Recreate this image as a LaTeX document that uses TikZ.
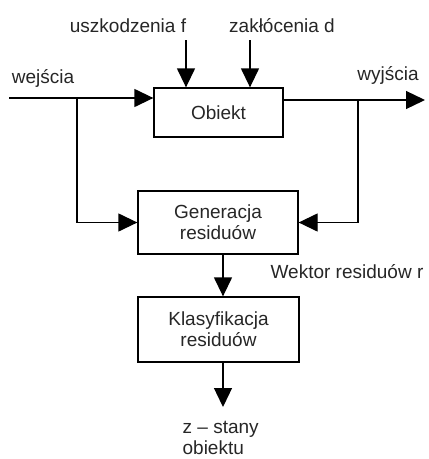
\documentclass[tikz,border=0pt]{standalone}
\usepackage{fontspec}
\setmainfont{Liberation Sans}
\usetikzlibrary{arrows.meta}
\begin{document}
\begin{tikzpicture}[x=1pt,y=-1pt,
  >={Triangle[length=19pt,width=18pt]},
  line width=1.3pt,
  txt/.style={font=\fontsize{19}{22}\selectfont, text=black!85},
  box/.style={draw, rectangle, inner sep=0pt, align=center, txt},
  lbl/.style={inner sep=0pt, txt}]
\useasboundingbox (0,0) rectangle (429,459);
% blocks
\node[box, minimum width=129pt, minimum height=49pt] (obj) at (218.5,112.5) {Obiekt};
\node[box, minimum width=160pt, minimum height=63pt] (gen) at (218,222.5) {Generacja\\[-1pt]residuów};
\node[box, minimum width=161pt, minimum height=65pt] (kla) at (218.5,329.5) {Klasyfikacja\\[-1pt]residuów};
% labels
\node[lbl, anchor=base] (uf) at (128,32) {uszkodzenia f};
\node[lbl, anchor=base] (zd) at (282,32) {zakłócenia d};
\node[lbl, anchor=base] (we) at (43,83) {wejścia};
\node[lbl, anchor=base] (wy) at (388,80) {wyjścia};
\node[lbl, anchor=base] (wr) at (347,278) {Wektor residuów r};
\node[lbl, anchor=west, align=left] (zs) at (182,437.5) {z – stany\\[-1pt]obiektu};
% coordinates
\coordinate (in) at (9,98);
\coordinate (bl) at (77,98);
\coordinate (out) at (425,100);
\coordinate (br) at (358,100);
\coordinate (f1) at (186,40);
\coordinate (d1) at (250,40);
\coordinate (ax) at (223,0);
\coordinate (zt) at (223,407);
% connectors
\draw[->] (in) -- (in -| obj.west);
\draw[->] (obj.east |- out) -- (out);
\draw[->] (bl) |- (gen.west);
\draw[->] (br) |- (gen.east);
\draw[->] (f1) -- (f1 |- obj.north);
\draw[->] (d1) -- (d1 |- obj.north);
\draw[->] (ax |- gen.south) -- (ax |- kla.north);
\draw[->] (ax |- kla.south) -- (zt);
\end{tikzpicture}
\end{document}
